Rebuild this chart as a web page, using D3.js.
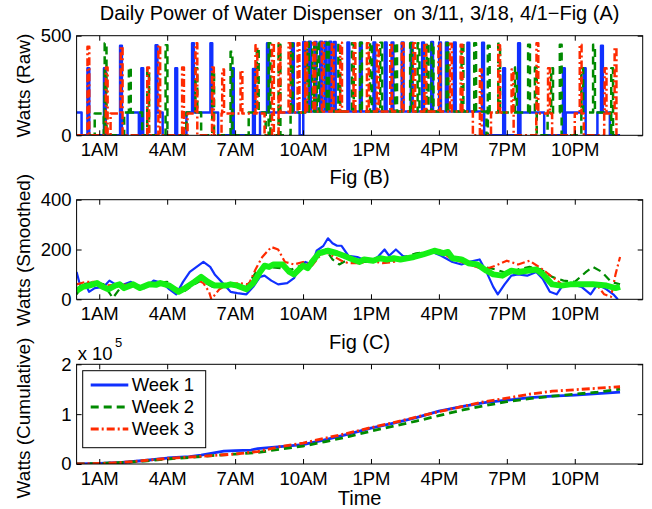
<!DOCTYPE html>
<html><head><meta charset="utf-8">
<script src="https://cdn.jsdelivr.net/npm/d3@7"></script>
<style>
body{margin:0;background:#fff}
svg{display:block}
</style>
</head><body><svg id="c" width="652" height="509"></svg>
<script>
// ---------------- DATA ----------------
const hourTicks = [1, 4, 7, 10, 13, 16, 19, 22];
const hourLabels = ["1AM", "4AM", "7AM", "10AM", "1PM", "4PM", "7PM", "10PM"];
const seriesNames = ["Week 1", "Week 2", "Week 3"];
const rawTicks = [0, 500];
const smoothTicks = [0, 200, 400];
const cumTicks = [0, 1, 2];

// Fig (A): raw power. Plateaus [start hour, end hour, watts], spikes [hour, peak watts]
const w1Plateaus = [[0,0.22,115],[2.25,2.75,115],[3.5,3.8,115],[4.85,6.25,115],[8.1,9.85,115],[10.07,18.0,120],[19.6,20.65,115],[21.6,22.45,115],[23.0,23.55,115]];
const w1Spikes = [[0.52,336],[1.25,337],[1.96,450],[2.9,337],[3.53,452],[4.4,336],[5.14,462],[5.95,462],[6.9,336],[7.83,333],[8.45,462],[9.55,462],
  [10.05,468],[10.3,470],[10.55,468],[10.8,470],[11.0,468],[11.2,470],[11.4,468],[12.0,466],[12.55,465],[13.15,466],[13.65,466],[13.95,466],[14.4,466],[14.8,465],[15.3,466],[15.7,468],[16.05,466],[16.35,466],[16.7,466],[17.3,465],[17.95,465],
  [18.88,336],[19.54,462],[21.52,336],[22.44,336],[23.2,450]];
const w2Plateaus = [[0.8,1.2,110],[2.1,2.9,115],[4.85,5.5,115],[7.6,8.35,115],[9.45,10.1,115],[10.1,18.1,120],[18.2,20.3,115],[20.8,21.4,115],[22.3,23.6,115]];
const w2Spikes = [[1.28,462],[2.35,340],[3.16,336],[3.97,452],[5.29,336],[6.03,320],[6.84,420],[8.0,440],[8.52,462],[8.96,455],[9.5,460],
  [10.21,465],[10.45,462],[10.65,465],[11.09,465],[11.6,462],[12.2,462],[12.56,465],[13.0,465],[13.45,465],[14.11,465],[14.77,462],[15.1,462],[15.5,465],[15.72,462],[16.38,462],[17.04,460],[17.6,462],
  [18.2,450],[18.66,460],[19.4,340],[19.98,455],[20.28,340],[21.0,336],[21.38,455],[22.33,336],[22.85,455],[23.65,336]];
const w3Plateaus = [[1.5,2.0,110],[4.9,5.3,110],[6.4,8.3,110],[9.0,10.1,115],[10.1,17.5,120],[18.3,19.3,115],[20.3,21.0,110],[22.0,22.4,110],[23.3,23.8,110]];
const w3Spikes = [[0.52,445],[1.33,340],[1.99,445],[3.16,340],[3.65,452],[4.7,340],[5.29,462],[6.02,340],[6.47,330],[7.28,325],[7.94,452],[8.67,462],[8.96,462],[9.4,462],[9.8,462],
  [10.14,465],[10.5,465],[10.87,465],[11.31,465],[11.68,465],[12.27,462],[12.86,462],[13.3,462],[13.89,462],[14.4,462],[14.91,462],[15.4,462],[16.02,460],[16.53,460],[17.0,455],
  [17.85,330],[18.66,452],[19.25,330],[20.35,462],[20.86,336],[22.26,455],[23.36,336],[23.8,440]];

// Fig (B): smoothed power [hour, watts]
const smoothW1 = [[0,110],[0.2,40],[0.4,60],[0.55,30],[0.8,45],[1.2,50],[1.45,75],[1.8,55],[2.1,60],[2.4,70],[2.7,50],[3.0,45],[3.4,75],[3.8,65],[4.1,40],[4.4,20],[4.7,70],[5.0,110],[5.3,130],[5.6,150],[5.9,130],[6.1,100],[6.5,60],[6.8,30],[7.1,25],[7.5,20],[7.8,50],[8.1,90],[8.3,95],[8.6,75],[8.9,60],[9.3,65],[9.6,85],[9.8,120],[10.1,150],[10.4,140],[10.6,195],[10.9,215],[11.1,245],[11.3,225],[11.5,215],[11.7,215],[12.0,175],[12.4,170],[12.9,150],[13.3,170],[13.6,200],[13.8,175],[14.1,200],[14.4,175],[14.8,165],[15.1,175],[15.7,190],[16.1,175],[16.3,165],[16.6,150],[17.0,140],[17.3,150],[17.8,160],[18.1,110],[18.4,50],[18.6,20],[18.9,60],[19.2,95],[19.5,100],[19.9,95],[20.3,110],[20.6,80],[20.9,30],[21.2,20],[21.5,60],[21.9,60],[22.3,50],[22.7,20],[23.0,60],[23.4,40],[23.7,20],[23.9,0]];
const smoothW2 = [[0,20],[0.3,60],[0.8,70],[1.2,60],[1.6,5],[2.0,55],[2.5,60],[3.0,50],[3.5,65],[4.0,70],[4.4,40],[4.8,35],[5.2,60],[5.5,75],[6.0,50],[6.5,60],[7.0,55],[7.5,50],[8.0,120],[8.5,130],[9.0,125],[9.5,120],[10.0,140],[10.5,160],[11.0,200],[11.3,160],[11.6,140],[12.0,160],[12.5,150],[13.0,150],[13.5,165],[14.0,155],[14.5,170],[15.0,185],[15.5,190],[16.0,195],[16.5,170],[17.0,155],[17.5,140],[18.0,130],[18.5,120],[19.0,105],[19.5,120],[20.0,130],[20.5,120],[21.0,90],[21.5,75],[22.0,70],[22.5,110],[22.8,130],[23.2,110],[23.6,70],[24,60]];
const smoothW3 = [[0,60],[0.4,70],[0.8,70],[1.2,55],[2.0,60],[2.5,55],[3.0,50],[3.5,60],[4.0,60],[4.5,40],[5.0,60],[5.3,80],[5.6,65],[5.85,30],[5.95,0],[6.3,40],[6.7,60],[7.2,65],[7.6,60],[7.9,120],[8.2,170],[8.6,210],[8.9,200],[9.2,150],[9.6,140],[10.0,150],[10.4,135],[10.7,170],[11.0,190],[11.3,175],[11.7,155],[12.0,145],[12.5,145],[13.0,155],[13.5,145],[14.0,150],[14.5,165],[15.0,170],[15.5,190],[16.0,200],[16.5,165],[17.0,150],[17.5,135],[18.0,120],[18.5,135],[19.0,155],[19.5,140],[20.0,155],[20.5,125],[21.0,90],[21.5,55],[22.0,65],[22.5,60],[23.0,55],[23.3,20],[23.6,10],[23.8,100],[24.0,170]];
const smoothAvg = [[0,35],[0.27,50],[0.55,55],[0.9,65],[1.15,50],[1.4,40],[1.7,55],[1.9,60],[2.1,45],[2.5,60],[2.8,45],[3.2,60],[3.5,58],[3.7,65],[4.1,55],[4.5,30],[4.8,45],[5.2,70],[5.5,90],[5.8,70],[6.1,55],[6.6,55],[6.8,60],[7.1,55],[7.5,40],[7.8,65],[8.1,110],[8.3,135],[8.5,130],[8.7,140],[9.1,140],[9.4,110],[9.6,100],[10.0,135],[10.2,125],[10.4,150],[10.7,185],[11.1,195],[11.5,185],[11.8,175],[12.2,160],[12.5,150],[12.7,160],[13.1,155],[13.4,165],[13.7,160],[14.0,165],[14.3,160],[14.6,165],[14.9,170],[15.3,180],[15.8,195],[16.2,185],[16.4,190],[16.6,165],[17.0,160],[17.3,145],[17.7,140],[18.1,115],[18.4,100],[18.8,95],[19.2,115],[19.5,110],[19.9,115],[20.3,120],[20.6,100],[21.0,60],[21.4,55],[21.8,60],[22.3,60],[22.8,60],[23.4,55],[23.8,45],[24.0,50]];

// Fig (C): cumulative energy [hour, x 10^5]
const cumW1 = [[0,0],[1,0.01],[2,0.03],[3,0.07],[4,0.12],[5,0.15],[5.5,0.18],[6,0.22],[6.5,0.26],[7,0.27],[7.7,0.28],[8,0.31],[9,0.35],[10,0.39],[11,0.49],[12,0.6],[13,0.72],[14,0.82],[15,0.93],[16,1.06],[17,1.15],[18,1.23],[19,1.28],[20,1.33],[21,1.36],[22,1.38],[23,1.41],[24,1.44]];
const cumW2 = [[0,0],[1,0.01],[2,0.03],[3,0.06],[4,0.1],[5,0.13],[6,0.17],[7,0.2],[8,0.23],[9,0.3],[10,0.36],[11,0.45],[12,0.55],[13,0.66],[14,0.76],[15,0.86],[16,0.97],[17,1.08],[18,1.17],[19,1.25],[20,1.31],[21,1.36],[22,1.4],[23,1.44],[24,1.5]];
const cumW3 = [[0,0],[1,0.01],[2,0.03],[3,0.07],[4,0.11],[5,0.14],[6,0.17],[7,0.2],[8,0.25],[9,0.35],[10,0.42],[11,0.52],[12,0.62],[13,0.73],[14,0.83],[15,0.94],[16,1.05],[17,1.15],[18,1.25],[19,1.32],[20,1.4],[21,1.46],[22,1.49],[23,1.52],[24,1.55]];

// ---------------- STYLE ----------------
const FONT = "'Liberation Sans', Arial, Helvetica, sans-serif";
const COLORS = ["#1030ff", "#008a00", "#ff2a00"];
const DASH = [null, "8,5", "8,3,2,3"];
const TICK_FS = 18.5, LABEL_FS = 20, YLABEL_FS = 19;

const svg = d3.select("#c");
const xL = 76.6, xR = 642.7;
const x = d3.scaleLinear().domain([0, 25]).range([xL, xR]);

// step-function builder for the raw panel (from hand-read plateaus and spikes)
function rawSeries(plateaus, spikes) {
  const w = 0.08;
  const edges = new Set([0, 24]);
  plateaus.forEach(p => { edges.add(p[0]); edges.add(p[1]); });
  spikes.forEach(s => { edges.add(s[0] - w / 2); edges.add(s[0] + w / 2); });
  const f = t => {
    let v = 0;
    plateaus.forEach(p => { if (t >= p[0] && t < p[1]) v = Math.max(v, p[2]); });
    spikes.forEach(s => { if (t >= s[0] - w / 2 && t < s[0] + w / 2) v = Math.max(v, s[1]); });
    return v;
  };
  const pts = [];
  Array.from(edges).sort((a, b) => a - b).forEach(t => {
    if (t < 0 || t > 24) return;
    pts.push([t, t === 0 ? f(0) : f(t - 1e-6)]);
    pts.push([t, t === 24 ? 0 : f(t + 1e-6)]);
  });
  return pts;
}

function panel(id, yTop, yBot, yDomain, yTicks, yFmt) {
  const y = d3.scaleLinear().domain(yDomain).range([yBot, yTop]);
  const g = svg.append("g");
  g.append("clipPath").attr("id", "clip" + id).append("rect")
    .attr("x", xL).attr("y", yTop).attr("width", xR - xL).attr("height", yBot - yTop);
  const plot = g.append("g").attr("clip-path", `url(#clip${id})`);
  const axes = g.append("g");
  const style = sel => {
    sel.select(".domain").remove();
    sel.selectAll("line").attr("stroke", "#000").attr("stroke-width", 1);
    sel.selectAll("text").attr("font-family", FONT).attr("font-size", TICK_FS).attr("fill", "#000");
    sel.attr("font-family", null).attr("font-size", null);
  };
  axes.append("g").attr("transform", `translate(0,${yBot})`)
    .call(d3.axisBottom(x).tickValues(hourTicks).tickFormat((d, i) => hourLabels[i]).tickSizeInner(-5).tickSizeOuter(0).tickPadding(8)).call(style);
  axes.append("g").attr("transform", `translate(0,${yTop})`)
    .call(d3.axisTop(x).tickValues(hourTicks).tickFormat("").tickSizeInner(-5).tickSizeOuter(0)).call(style);
  axes.append("g").attr("transform", `translate(${xL},0)`)
    .call(d3.axisLeft(y).tickValues(yTicks).tickFormat(yFmt).tickSizeInner(-5).tickSizeOuter(0).tickPadding(5)).call(style);
  axes.append("g").attr("transform", `translate(${xR},0)`)
    .call(d3.axisRight(y).tickValues(yTicks).tickFormat("").tickSizeInner(-5).tickSizeOuter(0)).call(style);
  axes.append("rect").attr("x", xL).attr("y", yTop).attr("width", xR - xL).attr("height", yBot - yTop)
    .attr("fill", "none").attr("stroke", "#000").attr("stroke-width", 1);
  return { y, plot };
}

function addLine(p, data, color, dash, width) {
  p.plot.append("path").datum(data)
    .attr("fill", "none").attr("stroke", color).attr("stroke-width", width)
    .attr("stroke-dasharray", dash).attr("stroke-linejoin", "round")
    .attr("d", d3.line().x(d => x(d[0])).y(d => p.y(d[1])));
}

function text(str, xp, yp, size, opts = {}) {
  const t = svg.append("text").attr("x", xp).attr("y", yp).attr("font-family", FONT)
    .attr("font-size", size).attr("fill", "#000").attr("text-anchor", opts.anchor || "middle")
    .style("white-space", "pre").text(str);
  if (opts.rotate) t.attr("transform", `rotate(-90,${xp},${yp})`);
  return t;
}

// ---------------- Fig (A) ----------------
const pA = panel("A", 35.7, 135.3, [0, 500], rawTicks, d => d);
[[w1Plateaus, w1Spikes], [w2Plateaus, w2Spikes], [w3Plateaus, w3Spikes]].forEach((s, i) => {
  addLine(pA, rawSeries(s[0], s[1]), COLORS[i], DASH[i], 2.5);
});

// ---------------- Fig (B) ----------------
const pB = panel("B", 199.7, 299.3, [0, 400], smoothTicks, d => d);
[smoothW1, smoothW2, smoothW3].forEach((s, i) => addLine(pB, s, COLORS[i], DASH[i], 2.2));
addLine(pB, smoothAvg, "#14f014", null, 6);

// ---------------- Fig (C) ----------------
const pC = panel("C", 364.3, 464, [0, 2], cumTicks, d => d);
[cumW1, cumW2, cumW3].forEach((s, i) => addLine(pC, s, COLORS[i], DASH[i], 2.8));

// legend
const lg = svg.append("g");
lg.append("rect").attr("x", 82.7).attr("y", 370.7).attr("width", 123).attr("height", 77)
  .attr("fill", "#fff").attr("stroke", "#000").attr("stroke-width", 1);
seriesNames.forEach((n, i) => {
  const yy = 385 + i * 22;
  lg.append("line").attr("x1", 90.7).attr("x2", 128.3).attr("y1", yy).attr("y2", yy)
    .attr("stroke", COLORS[i]).attr("stroke-width", 2.8).attr("stroke-dasharray", DASH[i]);
  lg.append("text").attr("x", 131.7).attr("y", yy).attr("dy", "0.35em").attr("font-family", FONT)
    .attr("font-size", TICK_FS).attr("fill", "#000").text(n);
});

// ---------------- texts ----------------
text("Daily Power of Water Dispenser  on 3/11, 3/18, 4/1\u2212Fig (A)", 359.6, 20, LABEL_FS);
text("Fig (B)", 359.6, 184, LABEL_FS);
text("Fig (C)", 359.6, 349, LABEL_FS);
text("Time", 359.6, 505, LABEL_FS);
text("Watts (Raw)", 30, 85.5, YLABEL_FS, { rotate: true });
text("Watts (Smoothed)", 30, 250, YLABEL_FS, { rotate: true });
text("Watts (Cumulative)", 30, 418, YLABEL_FS, { rotate: true });
text("x 10", 77.7, 360, TICK_FS, { anchor: "start" });
text("5", 115, 346.5, 13, { anchor: "start" });
</script>
</body></html>
